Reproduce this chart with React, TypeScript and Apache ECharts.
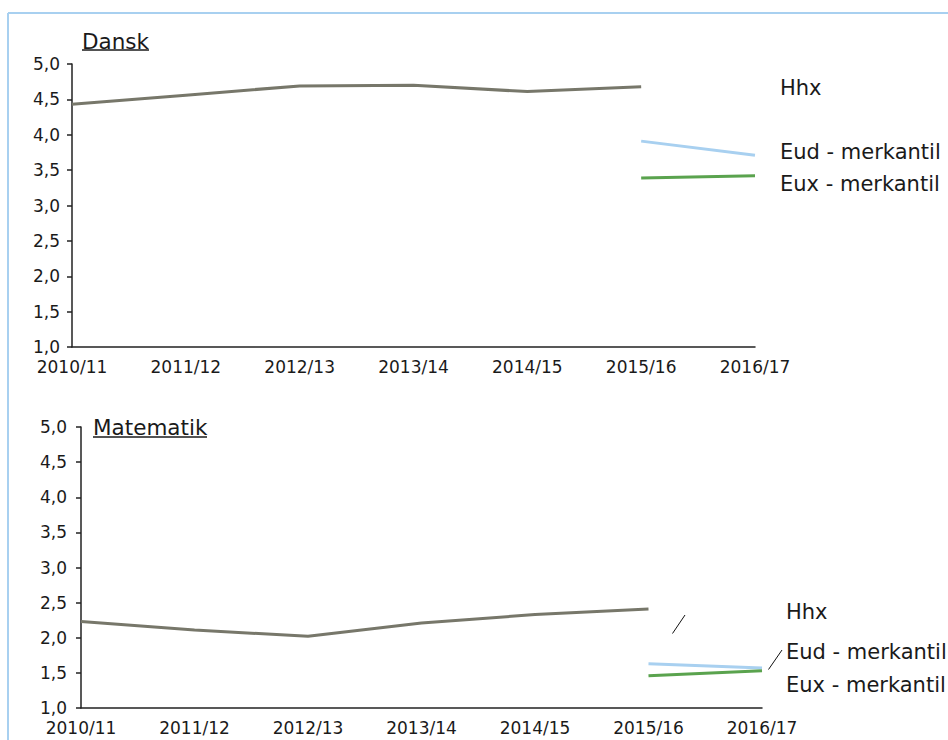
import React, { useEffect, useRef } from "react";
import * as echarts from "echarts";

const categories = ["2010/11", "2011/12", "2012/13", "2013/14", "2014/15", "2015/16", "2016/17"];

const danskHhx = [4.43, 4.56, 4.69, 4.70, 4.61, 4.68, null];
const danskEud = [null, null, null, null, null, 3.91, 3.71];
const danskEux = [null, null, null, null, null, 3.39, 3.42];

const matHhx = [2.23, 2.11, 2.02, 2.21, 2.33, 2.41, null];
const matEud = [null, null, null, null, null, 1.63, 1.57];
const matEux = [null, null, null, null, null, 1.46, 1.53];

const seriesNames = ["Hhx", "Eud - merkantil", "Eux - merkantil"];
const panelTitles = ["Dansk", "Matematik"];

const FONT = "'DejaVu Sans', Verdana, sans-serif";
const TXT = "#1a1a1a";
const COLORS = ["#77776a", "#a8d0f0", "#5aa34e"];

export default function App() {
  const ref = useRef<HTMLDivElement>(null);

  useEffect(() => {
    if (!ref.current) return;
    const chart = echarts.init(ref.current, null, { renderer: "svg" });

    const fmt = (v: number) => v.toFixed(1).replace(".", ",");

    const grids = [
      { left: 72, top: 64, width: 683, height: 283 },
      { left: 81, top: 427, width: 681, height: 281 },
    ];

    const yAxisBase = (gi: number, margin: number) => ({
      type: "value",
      gridIndex: gi,
      min: 1,
      max: 5,
      interval: 0.5,
      splitLine: { show: false },
      axisLine: { show: true, lineStyle: { color: "#222", width: 1.5 } },
      axisTick: { show: true, length: 5, lineStyle: { color: "#222", width: 1.5 } },
      axisLabel: {
        formatter: fmt,
        fontFamily: FONT,
        fontSize: 17,
        color: TXT,
        margin,
      },
    });

    const xAxisBase = (gi: number) => ({
      type: "category",
      gridIndex: gi,
      data: categories,
      boundaryGap: false,
      axisLine: { show: true, lineStyle: { color: "#222", width: 1.5 } },
      axisTick: { show: false },
      axisLabel: {
        fontFamily: FONT,
        fontSize: 17,
        color: TXT,
        margin: 11,
        interval: 0,
      },
    });

    const mk = (name: string, data: (number | null)[], idx: number, gi: number) => ({
      name,
      type: "line",
      xAxisIndex: gi,
      yAxisIndex: gi,
      data,
      symbol: "none",
      connectNulls: false,
      lineStyle: { color: COLORS[idx], width: 3 },
      itemStyle: { color: COLORS[idx] },
    });

    const label = (text: string, x: number, y: number, size = 21) => ({
      type: "text",
      x,
      y,
      style: {
        text,
        fontFamily: FONT,
        fontSize: size,
        fill: TXT,
        verticalAlign: "middle",
        align: "left",
      },
    });

    const option: any = {
      animation: false,
      backgroundColor: "#ffffff",
      grid: grids,
      xAxis: [xAxisBase(0), xAxisBase(1)],
      yAxis: [yAxisBase(0, 12), yAxisBase(1, 14)],
      series: [
        mk(seriesNames[0], danskHhx, 0, 0),
        mk(seriesNames[1], danskEud, 1, 0),
        mk(seriesNames[2], danskEux, 2, 0),
        mk(seriesNames[0], matHhx, 0, 1),
        mk(seriesNames[1], matEud, 1, 1),
        mk(seriesNames[2], matEux, 2, 1),
      ],
      graphic: [
        // frame
        { type: "line", shape: { x1: 8, y1: 13, x2: 948, y2: 13 }, style: { stroke: "#a8d0f0", lineWidth: 2 } },
        { type: "line", shape: { x1: 8, y1: 13, x2: 8, y2: 740 }, style: { stroke: "#a8d0f0", lineWidth: 2 } },
        // titles
        label(panelTitles[0], 82, 41, 21.5),
        { type: "line", shape: { x1: 82, y1: 50, x2: 149, y2: 50 }, style: { stroke: TXT, lineWidth: 1.5 } },
        label(panelTitles[1], 93, 427.5, 21.5),
        { type: "line", shape: { x1: 93, y1: 437, x2: 207, y2: 437 }, style: { stroke: TXT, lineWidth: 1.5 } },
        // labels top
        label(seriesNames[0], 780, 88),
        label(seriesNames[1], 780, 151.5),
        label(seriesNames[2], 780, 183.5),
        // labels bottom
        label(seriesNames[0], 786, 611.5),
        label(seriesNames[1], 786, 652),
        label(seriesNames[2], 786, 685),
        // leader lines
        { type: "line", shape: { x1: 672.5, y1: 633.5, x2: 685, y2: 615 }, style: { stroke: "#111", lineWidth: 1 } },
        { type: "line", shape: { x1: 768.5, y1: 669.5, x2: 782, y2: 650 }, style: { stroke: "#111", lineWidth: 1 } },
      ],
    };

    chart.setOption(option);
    return () => chart.dispose();
  }, []);

  return (
    <div
      ref={ref}
      style={{ position: "absolute", left: 0, top: 0, width: 948, height: 740 }}
    />
  );
}
